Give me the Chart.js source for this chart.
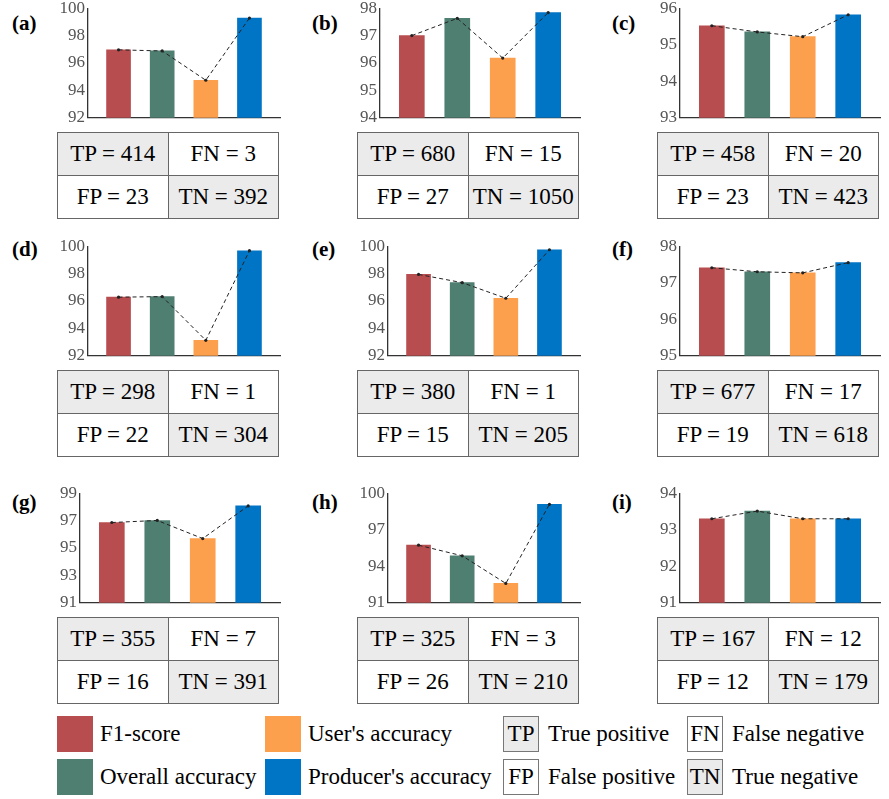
<!DOCTYPE html>
<html>
<head>
<meta charset="utf-8">
<script src="https://cdn.jsdelivr.net/npm/chart.js@4.4.1/dist/chart.umd.min.js"></script>
<style>
  body { margin: 0; background: #fff; font-family: 'Liberation Serif', 'DejaVu Serif', serif; }
  #page { position: relative; width: 889px; height: 799px; overflow: hidden; }
  canvas { position: absolute; }
  .tag { position: absolute; font-weight: bold; font-size: 21px; line-height: 24px; }
  table.cm { position: absolute; border-collapse: collapse; width: 222px; height: 84px; table-layout: fixed; }
  table.cm td { border: 1.5px solid #666; text-align: center; font-size: 23px; padding: 0; height: 42px; }
  .shade { background: #ebebeb; }
  .sw { position: absolute; width: 36px; height: 36px; }
  .box { position: absolute; width: 34px; height: 34px; border: 1.5px solid #777; font-size: 23px; line-height: 34px; text-align: center; }
  .lt { position: absolute; font-size: 23px; line-height: 36px; white-space: nowrap; }
</style>
</head>
<body>
<div id="page"></div>
<script>
// panels (a)-(i), metrics in bar order
const panelLabels = ['(a)', '(b)', '(c)', '(d)', '(e)', '(f)', '(g)', '(h)', '(i)'];
const metricNames = ['F1-score', 'Overall accuracy', "User's accuracy", "Producer's accuracy"];

const f1Score     = [96.96, 97.00, 95.52, 96.28, 97.94, 97.41, 96.86, 95.73, 93.30];
const overallAcc  = [96.88, 97.63, 95.35, 96.32, 97.34, 97.30, 97.01, 94.86, 93.51];
const usersAcc    = [94.74, 96.18, 95.22, 93.13, 96.20, 97.27, 95.69, 92.59, 93.30];
const producerAcc = [99.28, 97.84, 95.82, 99.67, 99.74, 97.55, 98.07, 99.09, 93.30];

const yMin  = [92, 94, 93, 92, 92, 95, 91, 91, 91];
const yMax  = [100, 98, 96, 100, 100, 98, 99, 100, 94];
const yStep = [2, 1, 1, 2, 2, 1, 2, 3, 1];

const tp = [414, 680, 458, 298, 380, 677, 355, 325, 167];
const fn = [3, 15, 20, 1, 1, 17, 7, 3, 12];
const fp = [23, 27, 23, 22, 15, 19, 16, 26, 12];
const tn = [392, 1050, 423, 304, 205, 618, 391, 210, 179];

const barColors = ['#b84d4f', '#4f7f71', '#fda04e', '#0074c5'];

const page = document.getElementById('page');
const chartTops = [7, 245, 492];
const tableTops = [132, 370, 617];
const tagTops = [11, 237, 490];

for (let i = 0; i < 9; i++) {
  const col = (i % 3) * 300;
  const row = Math.floor(i / 3);
  const axisLeft = yMax[i] >= 100 ? 88 : 80;
  // bars take ~55% of each slot on a 0.3..4.7 x range
  const barW = Math.round(0.55 * (280 - axisLeft) / 4.4);

  const tag = document.createElement('div');
  tag.className = 'tag';
  tag.style.left = (col + 12) + 'px';
  tag.style.top = tagTops[row] + 'px';
  tag.textContent = panelLabels[i];
  page.appendChild(tag);

  const canvas = document.createElement('canvas');
  const left = col + axisLeft - 40;
  canvas.width = col + 285 - left;
  canvas.height = 136;
  canvas.style.left = left + 'px';
  canvas.style.top = (chartTops[row] - 12) + 'px';
  page.appendChild(canvas);

  const vals = [f1Score[i], overallAcc[i], usersAcc[i], producerAcc[i]];
  const pts = vals.map((v, k) => ({ x: k + 1, y: v }));

  new Chart(canvas.getContext('2d'), {
    type: 'bar',
    data: {
      datasets: [{
        type: 'line',
        data: pts,
        borderColor: '#222',
        borderWidth: 1,
        borderDash: [4, 3],
        pointRadius: 1.6,
        pointBackgroundColor: '#222',
        pointBorderWidth: 0,
        order: 1
      }, {
        type: 'bar',
        data: pts,
        backgroundColor: barColors,
        base: yMin[i],
        barThickness: barW,
        order: 2
      }]
    },
    options: {
      responsive: false,
      animation: false,
      layout: { padding: { top: 12, bottom: 12, left: 0, right: 5 } },
      plugins: { legend: { display: false }, tooltip: { enabled: false } },
      scales: {
        x: {
          type: 'linear', min: 0.3, max: 4.7, offset: false,
          ticks: { display: false },
          grid: { display: false, drawTicks: false, offset: false },
          border: { color: '#333', width: 1.3 },
          afterFit: s => { s.height = 0; }
        },
        y: {
          min: yMin[i], max: yMax[i],
          ticks: { stepSize: yStep[i], color: '#555', padding: 3,
                   font: { family: "'Liberation Serif', serif", size: 17 } },
          grid: { display: false, drawTicks: false },
          border: { color: '#333', width: 1.3 },
          afterFit: s => { s.width = 40; }
        }
      }
    }
  });

  const table = document.createElement('table');
  table.className = 'cm';
  table.style.left = (col + 57) + 'px';
  table.style.top = tableTops[row] + 'px';
  table.innerHTML = `
    <tr><td class="shade">TP = ${tp[i]}</td><td>FN = ${fn[i]}</td></tr>
    <tr><td>FP = ${fp[i]}</td><td class="shade">TN = ${tn[i]}</td></tr>`;
  page.appendChild(table);
}

// legend
const legendItems = [
  { x: 57, y: 716, c: barColors[0], t: metricNames[0] },
  { x: 57, y: 759, c: barColors[1], t: metricNames[1] },
  { x: 265, y: 716, c: barColors[2], t: metricNames[2] },
  { x: 265, y: 759, c: barColors[3], t: metricNames[3] }
];
legendItems.forEach(it => {
  const sw = document.createElement('div');
  sw.className = 'sw';
  sw.style.left = it.x + 'px';
  sw.style.top = it.y + 'px';
  sw.style.background = it.c;
  page.appendChild(sw);
  const lt = document.createElement('div');
  lt.className = 'lt';
  lt.style.left = (it.x + 43) + 'px';
  lt.style.top = it.y + 'px';
  lt.textContent = it.t;
  page.appendChild(lt);
});

const cellKeys = [
  { x: 503, y: 716, k: 'TP', t: 'True positive', shade: true },
  { x: 503, y: 759, k: 'FP', t: 'False positive', shade: false },
  { x: 687, y: 716, k: 'FN', t: 'False negative', shade: false },
  { x: 687, y: 759, k: 'TN', t: 'True negative', shade: true }
];
cellKeys.forEach(it => {
  const b = document.createElement('div');
  b.className = 'box' + (it.shade ? ' shade' : '');
  b.style.left = it.x + 'px';
  b.style.top = it.y + 'px';
  b.textContent = it.k;
  page.appendChild(b);
  const lt = document.createElement('div');
  lt.className = 'lt';
  lt.style.left = (it.x + 45) + 'px';
  lt.style.top = it.y + 'px';
  lt.textContent = it.t;
  page.appendChild(lt);
});
</script>
</body>
</html>
